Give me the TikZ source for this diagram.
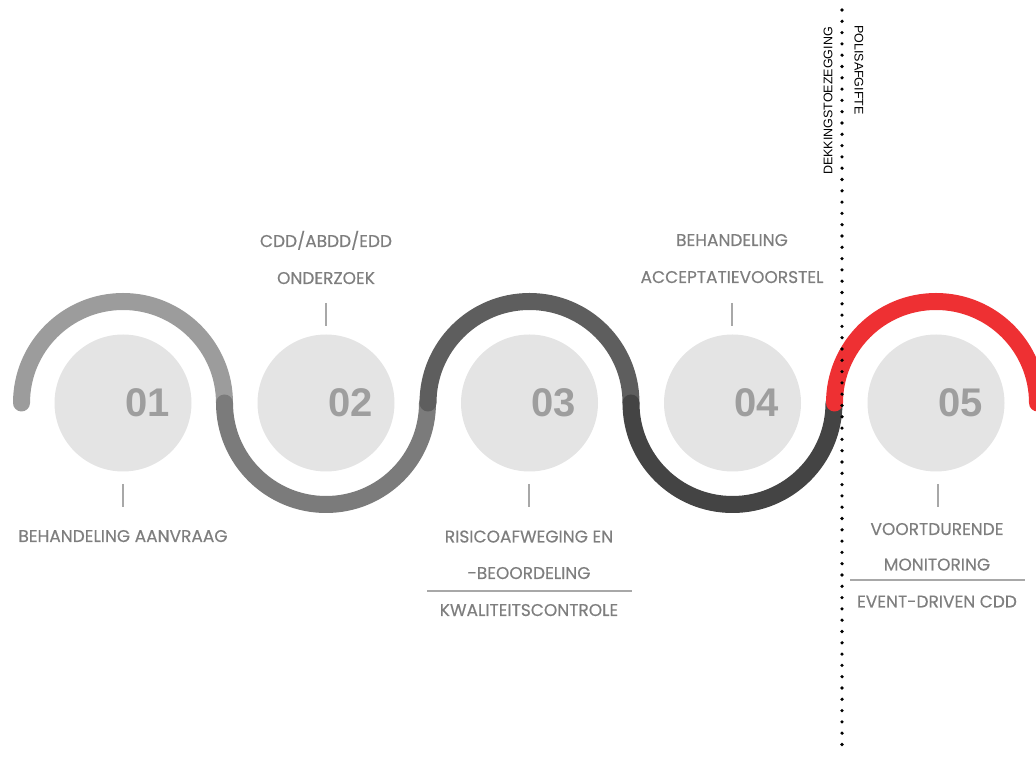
\documentclass[tikz,border=0pt]{standalone}
\usepackage{fontspec}
\setmainfont{Poppins}
\newfontfamily\lblfont[FakeBold=0.4]{Poppins}
\newfontfamily\numfont{Liberation Sans}
\begin{document}
\begin{tikzpicture}[x=1pt,y=1pt,
  disc/.style={circle,fill=discgray,draw=none,minimum size=137pt,inner sep=0pt},
  numtxt/.style={anchor=west,inner sep=0pt,text=numgray,font=\numfont\fontsize{40}{40}\selectfont\bfseries},
  lbl/.style={inner sep=0pt,text=lblgray,font=\lblfont\fontsize{17}{17}\selectfont,text height=12pt,text depth=0pt},
  tick/.style={draw=tickgray,line width=2.5pt},
  rule/.style={draw=tickgray,line width=2.5pt},
  wave/.style={line width=17pt,line cap=round},
  side/.style={inner sep=0pt,text=black,font=\numfont\fontsize{12.5}{12.5}\selectfont}
]
\definecolor{discgray}{HTML}{E4E4E4}
\definecolor{numgray}{HTML}{9E9E9E}
\definecolor{lblgray}{HTML}{7E7E7E}
\definecolor{tickgray}{HTML}{A8A8A8}
\definecolor{w1}{HTML}{9C9C9C}
\definecolor{w2}{HTML}{7B7B7B}
\definecolor{w3}{HTML}{5E5E5E}
\definecolor{w4}{HTML}{444444}
\definecolor{w5}{HTML}{EE3033}
\useasboundingbox (0,0) rectangle (1036,760);
\clip (0,0) rectangle (1036,760);
% discs
\node[disc] (c1) at (123,357) {};
\node[disc] (c2) at (326,357) {};
\node[disc] (c3) at (529.5,357) {};
\node[disc] (c4) at (732.5,357) {};
\node[disc] (c5) at (936,357) {};
% numbers
\node[numtxt] (n1) at (125,357) {01};
\node[numtxt] (n2) at (328,357) {02};
\node[numtxt] (n3) at (531.5,357) {03};
\node[numtxt] (n4) at (734.5,357) {04};
\node[numtxt] (n5) at (938,357) {05};
% wave
\draw[wave,w1] (21.5,357) arc[start angle=180,end angle=0,radius=101.5];
\draw[wave,w2] (224.5,357) arc[start angle=180,end angle=360,radius=101.5];
\draw[wave,w3] (428,357) arc[start angle=180,end angle=0,radius=101.5];
\draw[wave,w4] (631,357) arc[start angle=180,end angle=360,radius=101.5];
\draw[wave,w5] (834.5,357) arc[start angle=180,end angle=0,radius=101.5];
% dotted line
\coordinate (dtop) at (842,750);
\coordinate (dbot) at (842,8);
\draw[line width=3.6pt,line cap=round,dash pattern=on 0pt off 11.3pt] (dtop) -- (dbot);
\node[side,rotate=90] (dek) at (828,659) {DEKKINGSTOEZEGGING};
\node[side,rotate=-90] (pol) at (859,690) {POLISAFGIFTE};
% ticks
\coordinate (t1a) at (123,276); \coordinate (t1b) at (123,253);
\coordinate (t2a) at (326,457); \coordinate (t2b) at (326,434);
\coordinate (t3a) at (529,276); \coordinate (t3b) at (529,253);
\coordinate (t4a) at (732,457); \coordinate (t4b) at (732,434);
\coordinate (t5a) at (938,276); \coordinate (t5b) at (938,253);
\draw[tick] (t1a) -- (t1b);
\draw[tick] (t2a) -- (t2b);
\draw[tick] (t3a) -- (t3b);
\draw[tick] (t4a) -- (t4b);
\draw[tick] (t5a) -- (t5b);
% labels
\node[lbl] (l1) at (123,224) {BEHANDELING AANVRAAG};
\node[lbl] (l2a) at (326,519) {CDD/ABDD/EDD};
\node[lbl] (l2b) at (326,482) {ONDERZOEK};
\node[lbl] (l3a) at (529,223.5) {RISICOAFWEGING EN};
\node[lbl] (l3b) at (529,187) {-BEOORDELING};
\node[lbl] (l3c) at (529,150) {KWALITEITSCONTROLE};
\node[lbl] (l4a) at (732,520) {BEHANDELING};
\node[lbl] (l4b) at (732,483) {ACCEPTATIEVOORSTEL};
\node[lbl] (l5a) at (937,231) {VOORTDURENDE};
\node[lbl] (l5b) at (937,195.5) {MONITORING};
\node[lbl] (l5c) at (937,158.5) {EVENT-DRIVEN CDD};
\coordinate (r3a) at (427,169); \coordinate (r3b) at (632,169);
\coordinate (r5a) at (850,180); \coordinate (r5b) at (1025,180);
\draw[rule] (r3a) -- (r3b);
\draw[rule] (r5a) -- (r5b);
\end{tikzpicture}
\end{document}
